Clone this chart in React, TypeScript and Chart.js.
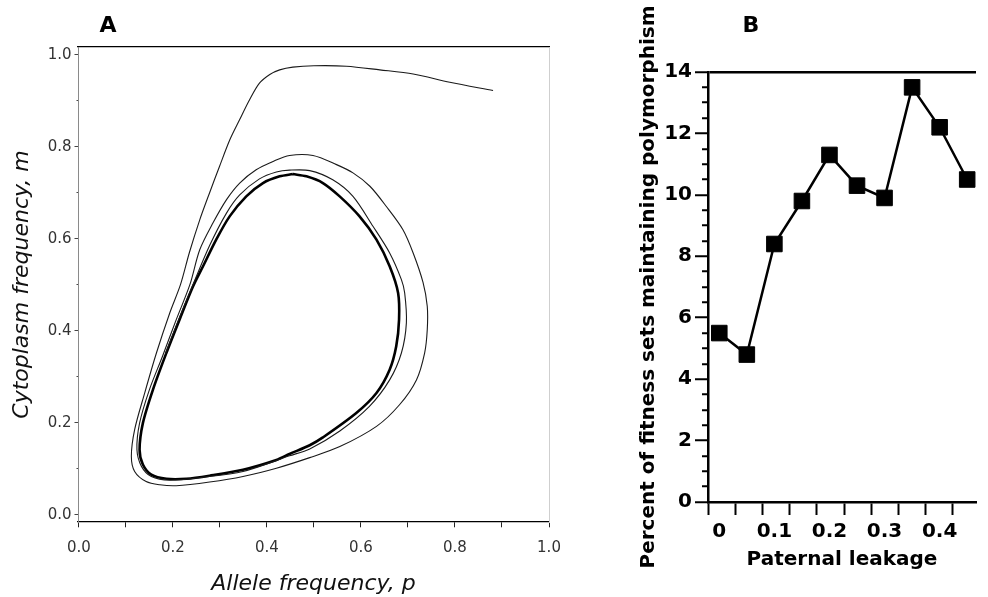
import React, { useEffect, useRef } from "react";
import { Chart, registerables } from "chart.js";
Chart.register(...registerables);

// Panel A: phase-plane trajectory (allele frequency p vs cytoplasm frequency m)
const spiralP = [0.881, 0.789, 0.711, 0.64, 0.569, 0.5, 0.455, 0.427, 0.406, 0.384, 0.363, 0.342, 0.321, 0.299, 0.278, 0.257, 0.235, 0.216, 0.193, 0.165, 0.14, 0.1185, 0.1115, 0.1185, 0.143, 0.172, 0.207, 0.278, 0.349, 0.42, 0.491, 0.555, 0.633, 0.682, 0.718, 0.7355, 0.741, 0.741, 0.732, 0.711, 0.689, 0.654, 0.619, 0.583, 0.548, 0.498, 0.448, 0.413, 0.377, 0.342, 0.314, 0.285, 0.257, 0.236, 0.207, 0.178, 0.15, 0.129, 0.1234, 0.133, 0.154, 0.193, 0.26, 0.349, 0.448, 0.491, 0.555, 0.618, 0.661, 0.686, 0.6966, 0.693, 0.686, 0.661, 0.6255, 0.583, 0.54, 0.491, 0.448, 0.42, 0.384, 0.342, 0.3136, 0.278, 0.2426, 0.212, 0.184];
const spiralM = [0.922, 0.94, 0.958, 0.967, 0.975, 0.976, 0.973, 0.967, 0.957, 0.938, 0.902, 0.859, 0.815, 0.757, 0.7, 0.641, 0.57, 0.5, 0.438, 0.352, 0.265, 0.185, 0.127, 0.094, 0.072, 0.065, 0.063, 0.071, 0.083, 0.101, 0.124, 0.148, 0.192, 0.239, 0.293, 0.352, 0.402, 0.453, 0.505, 0.569, 0.62, 0.67, 0.714, 0.743, 0.761, 0.781, 0.781, 0.768, 0.75, 0.721, 0.685, 0.634, 0.576, 0.5, 0.424, 0.345, 0.272, 0.199, 0.141, 0.105, 0.083, 0.075, 0.081, 0.094, 0.128, 0.143, 0.182, 0.2355, 0.293, 0.3515, 0.417, 0.482, 0.511, 0.569, 0.627, 0.692, 0.728, 0.748, 0.749, 0.745, 0.73, 0.695, 0.655, 0.585, 0.5, 0.424, 0.35];
const cycleP = [0.455, 0.427, 0.3915, 0.356, 0.3206, 0.292, 0.264, 0.2426, 0.214, 0.186, 0.1575, 0.136, 0.129, 0.136, 0.154, 0.186, 0.2285, 0.278, 0.349, 0.42, 0.448, 0.491, 0.519, 0.59, 0.633, 0.661, 0.675, 0.681, 0.679, 0.661, 0.633, 0.597, 0.5547, 0.519, 0.484, 0.455];
const cycleM = [0.7405, 0.7355, 0.721, 0.692, 0.6485, 0.598, 0.54, 0.496, 0.424, 0.3515, 0.272, 0.199, 0.141, 0.109, 0.087, 0.078, 0.078, 0.0848, 0.0978, 0.119, 0.132, 0.151, 0.168, 0.221, 0.2645, 0.315, 0.366, 0.424, 0.482, 0.54, 0.598, 0.6485, 0.692, 0.721, 0.7355, 0.7405];
const aTicks = [0, 0.1, 0.2, 0.3, 0.4, 0.5, 0.6, 0.7, 0.8, 0.9, 1.0];

// Panel B: percent of fitness sets maintaining polymorphism vs paternal leakage
const leakage = [0, 0.05, 0.1, 0.15, 0.2, 0.25, 0.3, 0.35, 0.4, 0.45];
const percent = [5.5, 4.8, 8.4, 9.8, 11.3, 10.3, 9.9, 13.5, 12.2, 10.5];
const bXLabels = [0, 0.1, 0.2, 0.3, 0.4];
const bXMarks = [-0.0205, 0.0289, 0.0783, 0.1277, 0.1771, 0.2265, 0.2759, 0.3253, 0.3747, 0.4241];
const bYTicks = [0, 0.5, 1, 1.5, 2, 2.5, 3, 3.5, 4, 4.5, 5, 5.5, 6, 6.5, 7, 7.5, 8, 8.5, 9, 9.5, 10, 10.5, 11, 11.5, 12, 12.5, 13, 13.5, 14];

const FA = "'DejaVu Sans', sans-serif";
const FB = "'DejaVu Sans', sans-serif";
const clear = "rgba(0,0,0,0)";

export default function App() {
  const refA = useRef<HTMLCanvasElement>(null);
  const refB = useRef<HTMLCanvasElement>(null);

  useEffect(() => {
    document.body.style.margin = "0";
    const isEven = (v: number) => Math.round(v * 10) % 2 === 0;
    const isMinorA = (v: number) => !isEven(v);

    const chartA = new Chart(refA.current!, {
      type: "line",
      data: {
        datasets: [
          {
            data: spiralP.map((p, i) => ({ x: p, y: spiralM[i] })),
            borderColor: "#1a1a1a",
            borderWidth: 1.1,
            pointRadius: 0,
            tension: 0.3,
            fill: false,
            xAxisID: "x",
            yAxisID: "y",
          },
          {
            data: cycleP.map((p, i) => ({ x: p, y: cycleM[i] })),
            borderColor: "#000",
            borderWidth: 2.6,
            pointRadius: 0,
            tension: 0.3,
            fill: false,
            xAxisID: "x",
            yAxisID: "y",
          },
        ],
      },
      options: {
        responsive: false,
        animation: false,
        events: [],
        layout: { padding: { left: 0, top: 47, right: 12, bottom: 0 } },
        plugins: { legend: { display: false }, tooltip: { enabled: false } },
        scales: {
          x: {
            type: "linear",
            position: "bottom",
            min: -0.002,
            max: 1.0,
            afterBuildTicks: (s: any) => {
              s.ticks = aTicks.map((v) => ({ value: v }));
            },
            afterFit: (s: any) => {
              s.height = 75;
            },
            grid: {
              drawOnChartArea: false,
              drawTicks: true,
              tickLength: 17,
              tickColor: "#222",
              tickWidth: 1,
              tickBorderDash: [5, 40],
            },
            border: { display: true, color: "#000", width: 1.3 },
            ticks: {
              autoSkip: false,
              maxRotation: 0,
              padding: 0,
              color: "#333",
              font: { family: FA, size: 15 },
              callback: (v: any) => (isEven(Number(v)) ? Number(v).toFixed(1) : ""),
            },
            title: {
              display: true,
              text: "Allele frequency, p",
              color: "#111",
              font: { family: FA, size: 22, style: "italic" },
              padding: { top: 0, bottom: 0 },
            },
          },
          xTop: {
            type: "linear",
            position: "top",
            min: -0.002,
            max: 1.0,
            afterFit: (s: any) => {
              s.height = 0;
            },
            ticks: { display: false },
            grid: { display: true, drawOnChartArea: false, drawTicks: false },
            border: { display: true, color: "#000", width: 1.3 },
          },
          y: {
            type: "linear",
            position: "left",
            min: -0.0159,
            max: 1.0167,
            afterBuildTicks: (s: any) => {
              s.ticks = aTicks.map((v) => ({ value: v }));
            },
            afterFit: (s: any) => {
              s.width = 78;
            },
            grid: {
              drawOnChartArea: false,
              tickLength: 3.5,
              tickColor: "#444",
              tickWidth: 1,
              tickBorderDash: (ctx: any) => (ctx.tick && isMinorA(ctx.tick.value) ? [1.5, 2] : []),
              tickBorderDashOffset: (ctx: any) => (ctx.tick && isMinorA(ctx.tick.value) ? 1.5 : 0),
            },
            border: { display: true, color: "#8a8a8a", width: 1 },
            ticks: {
              autoSkip: false,
              padding: 3,
              color: "#333",
              font: { family: FA, size: 15 },
              callback: (v: any) => (isEven(Number(v)) ? Number(v).toFixed(1) : ""),
            },
            title: {
              display: true,
              text: "Cytoplasm frequency, m",
              color: "#111",
              font: { family: FA, size: 22, style: "italic" },
              padding: { top: 8.8, bottom: 0 },
            },
          },
          yRight: {
            type: "linear",
            position: "right",
            min: -0.0159,
            max: 1.0167,
            afterFit: (s: any) => {
              s.width = 0;
            },
            ticks: { display: false },
            grid: { display: true, drawOnChartArea: false, drawTicks: false },
            border: { display: true, color: "#cfcfcf", width: 1 },
          },
        },
      },
    } as any);

    const chartB = new Chart(refB.current!, {
      type: "line",
      data: {
        datasets: [
          {
            data: leakage.map((x, i) => ({ x, y: percent[i] })),
            borderColor: "#000",
            borderWidth: 2.5,
            pointStyle: "rect",
            pointRadius: 11,
            pointBackgroundColor: "#000",
            pointBorderColor: "#000",
            pointBorderWidth: 1,
            tension: 0,
            fill: false,
            clip: false,
          },
        ],
      },
      options: {
        responsive: false,
        animation: false,
        events: [],
        layout: { padding: { left: 0, top: 72, right: 0, bottom: 0 } },
        plugins: { legend: { display: false }, tooltip: { enabled: false } },
        scales: {
          x: {
            type: "linear",
            position: "bottom",
            min: -0.0205,
            max: 0.466,
            afterBuildTicks: (s: any) => {
              s.ticks = [...bXMarks, ...bXLabels].sort((a, b) => a - b).map((v) => ({ value: v }));
            },
            afterFit: (s: any) => {
              s.height = 95;
            },
            grid: {
              drawOnChartArea: false,
              tickLength: 13,
              tickWidth: 2,
              tickColor: (ctx: any) => (ctx.tick && bXMarks.includes(ctx.tick.value) ? "#000" : clear),
            },
            border: { display: true, color: "#000", width: 2.5 },
            ticks: {
              autoSkip: false,
              maxRotation: 0,
              padding: 5,
              color: "#000",
              font: { family: FB, size: 20, weight: "bold" },
              callback: (v: any) => (bXLabels.includes(Number(v)) ? String(v) : ""),
            },
            title: {
              display: true,
              text: "Paternal leakage",
              color: "#000",
              font: { family: FB, size: 20, weight: "bold" },
              padding: { top: 0, bottom: 25 },
            },
          },
          y: {
            type: "linear",
            position: "left",
            min: 0,
            max: 14,
            afterBuildTicks: (s: any) => {
              s.ticks = bYTicks.map((v) => ({ value: v }));
            },
            afterFit: (s: any) => {
              s.width = 147;
            },
            grid: {
              drawOnChartArea: true,
              color: (ctx: any) => (ctx.tick && ctx.tick.value === 14 ? "#000" : clear),
              lineWidth: 2.5,
              tickLength: 13,
              tickWidth: 2,
              tickColor: "#000",
              tickBorderDash: (ctx: any) => (ctx.tick && ctx.tick.value % 2 !== 0 ? [6, 7] : []),
              tickBorderDashOffset: (ctx: any) => (ctx.tick && ctx.tick.value % 2 !== 0 ? 6 : 0),
            },
            border: { display: true, color: "#000", width: 2.5 },
            ticks: {
              autoSkip: false,
              padding: 3,
              color: "#000",
              font: { family: FB, size: 20, weight: "bold" },
              callback: (v: any) => (Number(v) % 2 === 0 ? String(v) : ""),
            },
            title: {
              display: true,
              text: "Percent of fitness sets maintaining polymorphism",
              color: "#000",
              font: { family: FB, size: 20, weight: "bold" },
              padding: { top: 76, bottom: 0 },
            },
          },
        },
      },
    } as any);

    return () => {
      chartA.destroy();
      chartB.destroy();
    };
  }, []);

  const panelLabel: React.CSSProperties = {
    position: "absolute",
    fontFamily: FB,
    fontWeight: "bold",
    fontSize: "22px",
    lineHeight: "22px",
    transform: "translate(-50%, -50%)",
    color: "#000",
  };

  return (
    <div style={{ position: "relative", width: 988, height: 597, background: "#fff", overflow: "hidden" }}>
      <canvas ref={refA} width={561} height={597} style={{ position: "absolute", left: 0, top: 0, display: "block" }} />
      <canvas ref={refB} width={427} height={597} style={{ position: "absolute", left: 561, top: 0, display: "block" }} />
      <div style={{ ...panelLabel, left: 108, top: 25 }}>A</div>
      <div style={{ ...panelLabel, left: 751, top: 25 }}>B</div>
    </div>
  );
}
